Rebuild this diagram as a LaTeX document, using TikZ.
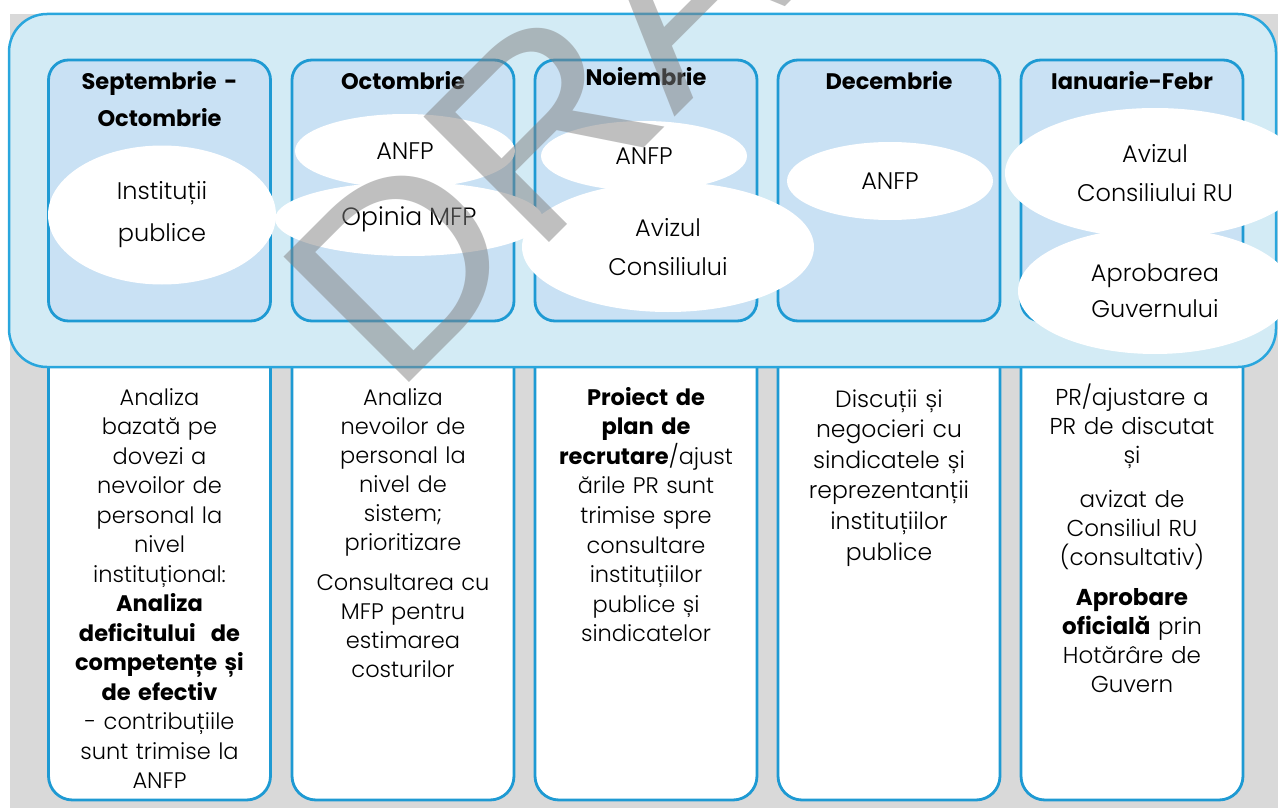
\documentclass[tikz,border=0pt]{standalone}
\usepackage{fontspec}
\setmainfont{Poppins}[UprightFont=* Light, BoldFont=* Bold]
\newfontfamily\wmfont{Liberation Sans}
\usetikzlibrary{shapes.geometric}
\definecolor{bggray}{HTML}{D9D9D9}
\definecolor{panelfill}{HTML}{D3EBF5}
\definecolor{panelline}{HTML}{29A6DD}
\definecolor{colfill}{HTML}{C9E1F4}
\definecolor{colline}{HTML}{1E9AD3}
\begin{document}
\begin{tikzpicture}[x=1pt,y=-1pt,
  panel/.style={draw=panelline, line width=2.5pt, fill=panelfill, rounded corners=38pt, inner sep=0pt},
  colbox/.style={draw=colline, line width=2.8pt, fill=colfill, rounded corners=20pt, inner sep=0pt, minimum width=222pt, minimum height=261pt},
  notebox/.style={draw=colline, line width=2.8pt, fill=white, rounded corners=24pt, inner sep=0pt, minimum width=222pt, minimum height=470pt},
  oval/.style={ellipse, fill=white, inner sep=0pt, align=center, font=\fontsize{24}{39}\selectfont},
  monthtitle/.style={text width=220pt, align=center, anchor=base, inner sep=0pt, font=\bfseries\fontsize{22.5}{36}\selectfont},
  notetext/.style={text width=220pt, align=center, anchor=base, inner sep=0pt},
]
\useasboundingbox (0,0) rectangle (1278,808);
\fill[bggray] (10,14) rectangle (1278,808);

% lower note boxes
\node[notebox] (n1) at (159.5,565) {};
\node[notebox] (n2) at (403,565) {};
\node[notebox] (n3) at (646,565) {};
\node[notebox] (n4) at (889,565) {};
\node[notebox] (n5) at (1132,565) {};

% big panel
\node[panel, minimum width=1267pt, minimum height=353pt] (panel) at (642.5,190.5) {};

% month columns
\node[colbox] (c1) at (159.5,190.5) {};
\node[colbox] (c2) at (403,190.5) {};
\node[colbox] (c3) at (646,190.5) {};
\node[colbox] (c4) at (889,190.5) {};
\node[colbox] (c5) at (1132,190.5) {};

% ovals
\node[oval, minimum width=228pt, minimum height=139pt, font=\fontsize{24}{42}\selectfont] (e1) at (162,215) {Instituții\\publice};
\node[oval, minimum width=220pt, minimum height=74pt] (e2) at (405,151) {ANFP};
\node[oval, minimum width=268pt, minimum height=74pt, font=\fontsize{25}{30}\selectfont] (e3) at (409,219) {Opinia MFP};
\node[oval, minimum width=206pt, minimum height=70pt] (e4) at (644,156) {ANFP};
\node[oval, minimum width=292pt, minimum height=130pt] (e5) at (668,247) {Avizul\\Consiliului};
\node[oval, minimum width=206pt, minimum height=78pt] (e6) at (890,181) {ANFP};
\node[oval, minimum width=300pt, minimum height=130pt] (e7) at (1155,173) {Avizul\\Consiliului RU};
\node[oval, minimum width=274pt, minimum height=126pt, font=\fontsize{24}{36}\selectfont] (e8) at (1155,291) {Aprobarea\\Guvernului};

% titles
\node[monthtitle] (h1) at (159.5,90) {Septembrie -\\Octombrie};
\node[monthtitle] (h2) at (403,90) {Octombrie};
\node[monthtitle] (h3) at (646,85) {Noiembrie};
\node[monthtitle] (h4) at (889,90) {Decembrie};
\node[monthtitle] (h5) at (1132,90) {Ianuarie-Febr};

% notes
\node[notetext, font=\fontsize{22.5}{29.5}\selectfont] (t1) at (159.5,405) {Analiza\\ bazată pe\\ dovezi a\\ nevoilor de\\ personal la\\ nivel\\ instituțional:\\ \textbf{Analiza}\\ \textbf{deficitului\ \ de}\\ \textbf{competențe și}\\ \textbf{de efectiv}\\ - contribuțiile\\ sunt trimise la\\ ANFP};
\node[notetext, font=\fontsize{22.5}{29}\selectfont] (t2) at (403,405) {Analiza\\ nevoilor de\\ personal la\\ nivel de\\ sistem;\\ prioritizare\\[11pt] Consultarea cu\\ MFP pentru\\ estimarea\\ costurilor};
\node[notetext, font=\fontsize{22.5}{29.6}\selectfont] (t3) at (646,405) {\textbf{Proiect de}\\ \textbf{plan de}\\ \textbf{recrutare}/ajust\\ ările PR sunt\\ trimise spre\\ consultare\\ instituțiilor\\ publice și\\ sindicatelor};
\node[notetext, font=\fontsize{23.5}{30.6}\selectfont] (t4) at (889,407) {Discuții și\\ negocieri cu\\ sindicatele și\\ reprezentanții\\ instituțiilor\\ publice};
\node[notetext, font=\fontsize{23}{29}\selectfont] (t5) at (1132,405) {PR/ajustare a\\ PR de discutat\\ și\\[15pt] avizat de\\ Consiliul RU\\ (consultativ)\\[11pt] \textbf{Aprobare}\\ \textbf{oficială}\ prin\\ Hotărâre de\\ Guvern};

% watermark
\begin{scope}[cm={19.45,19.45,-18.24,18.24,(389.6,402.4)}]
\node[transform shape, anchor=base west, inner sep=0pt, font=\wmfont\fontsize{10}{12}\selectfont, text=black!50, text opacity=0.5] (wm) at (0,0) {DRAFT};
\end{scope}
\end{tikzpicture}
\end{document}
